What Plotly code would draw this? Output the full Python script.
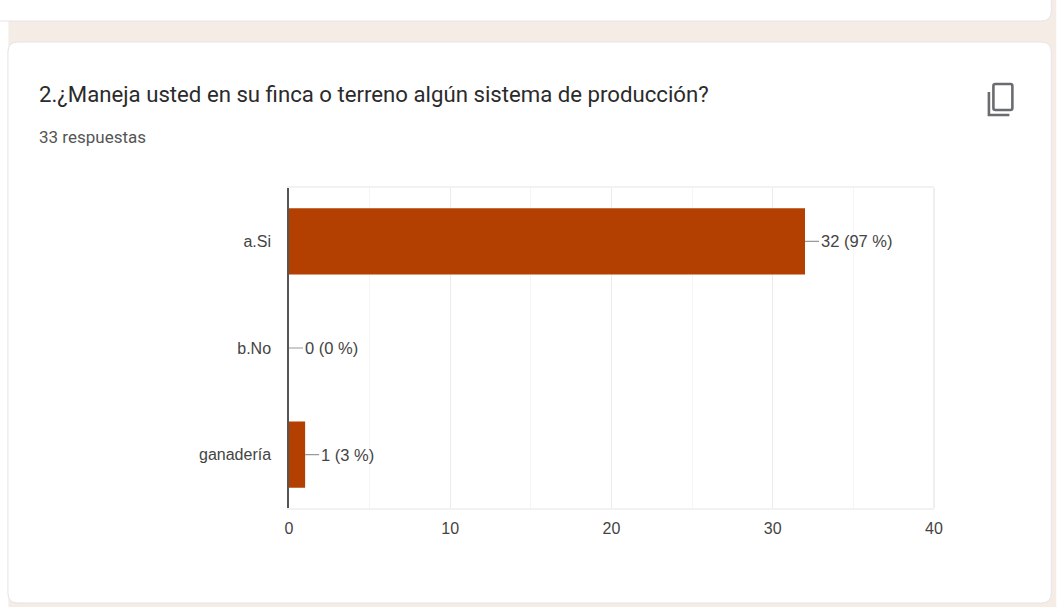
import plotly.graph_objects as go

categories = ["a.Si", "b.No", "ganadería"]
counts = [32, 0, 1]
labels = ["32 (97 %)", "0 (0 %)", "1 (3 %)"]
x_ticks = [0, 10, 20, 30, 40]
title = "2.¿Maneja usted en su finca o terreno algún sistema de producción?"
subtitle = "33 respuestas"

W, H = 1057, 607
L, R, T, B = 288.5, 934.5, 188, 508
BAND = "#f6ece6"
EDGE = "#e4e4e8"
BAR = "#b33f00"
TXT = "#444444"

def px(x):
    return (x - L) / (R - L)

def py(y):
    return (B - y) / (B - T)

def rounded(x0, y0, x1, y1, r):
    X, Y = px, py
    return (f"M{X(x0+r)},{Y(y0)} L{X(x1-r)},{Y(y0)} Q{X(x1)},{Y(y0)} {X(x1)},{Y(y0+r)} "
            f"L{X(x1)},{Y(y1-r)} Q{X(x1)},{Y(y1)} {X(x1-r)},{Y(y1)} L{X(x0+r)},{Y(y1)} "
            f"Q{X(x0)},{Y(y1)} {X(x0)},{Y(y1-r)} L{X(x0)},{Y(y0+r)} Q{X(x0)},{Y(y0)} {X(x0+r)},{Y(y0)} Z")

def paper_shape(path, fill=None, line=None, width=0):
    return dict(type="path", xref="paper", yref="paper", path=path, layer="below",
                fillcolor=fill if fill else "rgba(0,0,0,0)",
                line=dict(color=line if line else "rgba(0,0,0,0)", width=width))

shapes = [
    dict(type="rect", xref="paper", yref="paper", x0=px(7.5), x1=px(W), y0=py(H), y1=py(0), layer="below",
         fillcolor=BAND, line=dict(width=0)),
    paper_shape(rounded(-10, -30, 1052, 21, 10), "#ffffff", EDGE, 1),
    paper_shape(rounded(7, 42, 1052, 603, 10), "#ffffff", EDGE, 1),
    paper_shape(rounded(994, 84, 1013, 110, 2), None, "#6a6d70", 2.6),
    paper_shape(f"M{px(989.5)},{py(92)} L{px(989.5)},{py(115)} L{px(1010)},{py(115)}", None, "#6a6d70", 2.6),
    dict(type="line", xref="paper", yref="paper", x0=1, x1=1, y0=0, y1=1, layer="below",
         line=dict(color="#efefef", width=2)),
]

fig = go.Figure(go.Bar(
    x=counts, y=categories, orientation="h", marker=dict(color=BAR, line=dict(width=0)),
    width=0.62, hoverinfo="skip",
))

annotations = [
    dict(x=v, y=c, xref="x", yref="y", text=t, showarrow=True, arrowhead=0, arrowwidth=1.2,
         arrowcolor="#999999", ax=15, ay=0, axref="pixel", ayref="pixel", xanchor="left",
         borderpad=0, standoff=0, startstandoff=1,
         font=dict(family="Liberation Sans", size=16.5, color=TXT))
    for c, v, t in zip(categories, counts, labels)
]
annotations += [
    dict(x=px(39), y=py(94), xref="paper", yref="paper", text=title, showarrow=False,
         xanchor="left", yanchor="middle", xshift=-3, font=dict(family="Roboto", size=22.2, color="#2b2b2b")),
    dict(x=px(39), y=py(137), xref="paper", yref="paper", text=subtitle, showarrow=False,
         xanchor="left", yanchor="middle", xshift=-3, font=dict(family="Roboto", size=17, color="#555555")),
]

fig.update_layout(
    width=W, height=H, margin=dict(l=L, r=W - R, t=T, b=H - B),
    paper_bgcolor="#ffffff", plot_bgcolor="rgba(0,0,0,0)", showlegend=False,
    shapes=shapes, annotations=annotations,
    xaxis=dict(range=[0, 40], tickvals=x_ticks, showgrid=True, gridcolor="#ececec", gridwidth=1,
               minor=dict(dtick=5, showgrid=True, gridcolor="#f5f5f5", gridwidth=1),
               showline=True, linecolor="#f2f2f2", linewidth=2, mirror=True, zeroline=False,
               ticks="", ticklabelstandoff=5, tickfont=dict(family="Liberation Sans", size=16, color=TXT)),
    yaxis=dict(categoryorder="array", categoryarray=categories[::-1], showgrid=False,
               showline=True, linecolor="#555555", linewidth=1.5, zeroline=False, ticks="",
               ticklabelstandoff=13,
               tickfont=dict(family="Liberation Sans", size=16, color=TXT)),
)

fig.write_html("out.html", post_script="document.body.style.margin='0';", config=dict(displayModeBar=False))
